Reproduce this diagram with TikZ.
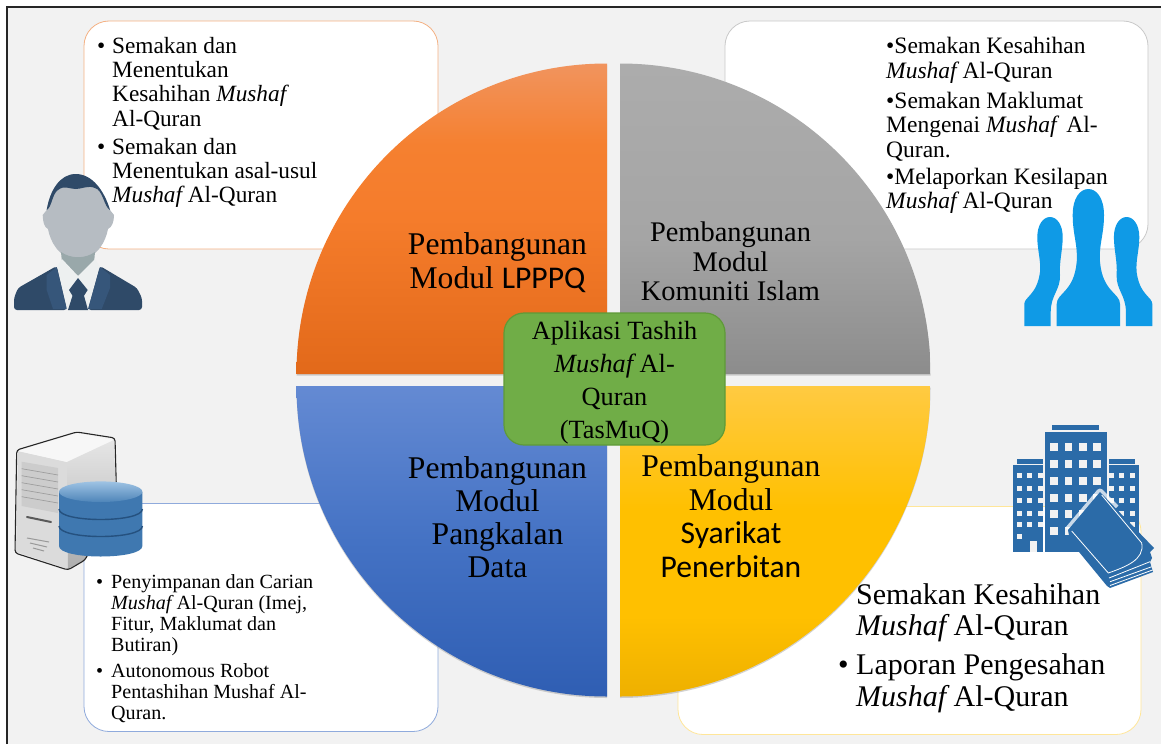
\documentclass[tikz,border=0pt]{standalone}
\usepackage{fontspec}
\setmainfont{Liberation Serif}
\newfontfamily\calfont{Carlito}
\definecolor{PageGray}{HTML}{f2f2f2}
\definecolor{LeafGreen}{HTML}{70ad47}
\definecolor{LeafEdge}{HTML}{5f9a38}
\definecolor{SuitDark}{HTML}{2f4a68}
\definecolor{SuitLight}{HTML}{36567a}
\definecolor{FaceGray}{HTML}{b6bcc2}
\definecolor{NeckGray}{HTML}{99a8aa}
\definecolor{ShirtWhite}{HTML}{edf0f0}
\definecolor{CrowdBlue}{HTML}{0f9ae6}
\definecolor{TowerBlue}{HTML}{2b6ba8}
\definecolor{DiskBlue}{HTML}{3f78b0}
\definecolor{DiskPale}{HTML}{8db8de}
\definecolor{DiskDark}{HTML}{25517f}
\definecolor{EdgeOrange}{HTML}{f4b183}
\definecolor{EdgeGray}{HTML}{c9c9c9}
\definecolor{EdgeBlue}{HTML}{8faadc}
\definecolor{EdgeGold}{HTML}{ffe699}
\usetikzlibrary{shadows}
\pgfdeclareverticalshading{pieorange}{100bp}{
  color(0bp)=(rgb,255:red,226;green,105;blue,26); color(25bp)=(rgb,255:red,226;green,105;blue,26);
  color(50bp)=(rgb,255:red,245;green,124;blue,43); color(62bp)=(rgb,255:red,245;green,128;blue,48);
  color(75bp)=(rgb,255:red,241;green,148;blue,94); color(100bp)=(rgb,255:red,241;green,148;blue,94)}
\pgfdeclareverticalshading{piegray}{100bp}{
  color(0bp)=(rgb,255:red,140;green,140;blue,140); color(25bp)=(rgb,255:red,140;green,140;blue,140);
  color(47bp)=(rgb,255:red,165;green,165;blue,165); color(75bp)=(rgb,255:red,172;green,172;blue,172);
  color(100bp)=(rgb,255:red,172;green,172;blue,172)}
\pgfdeclareverticalshading{pieblue}{100bp}{
  color(0bp)=(rgb,255:red,47;green,94;blue,179); color(25bp)=(rgb,255:red,47;green,94;blue,179);
  color(50bp)=(rgb,255:red,68;green,114;blue,196); color(75bp)=(rgb,255:red,100;green,138;blue,211);
  color(100bp)=(rgb,255:red,100;green,138;blue,211)}
\pgfdeclareverticalshading{piegold}{100bp}{
  color(0bp)=(rgb,255:red,238;green,176;blue,0); color(25bp)=(rgb,255:red,238;green,176;blue,0);
  color(38bp)=(rgb,255:red,255;green,192;blue,0); color(55bp)=(rgb,255:red,255;green,192;blue,0);
  color(75bp)=(rgb,255:red,255;green,202;blue,66); color(100bp)=(rgb,255:red,255;green,202;blue,66)}
\newcommand{\bitem}[1]{\makebox[#1][l]{\textbullet}}
\newcommand{\bcont}[1]{\hspace*{#1}}
\newcommand{\mushaf}{{\itshape Mushaf}}
\tikzset{
  infobox/.style={rounded corners=25pt,fill=white,line width=.8pt,inner sep=0pt},
  listtext/.style={anchor=north west,inner sep=0pt,align=left},
  piefill/.style={drop shadow={shadow xshift=0pt,shadow yshift=-1.5pt,opacity=.35}},
  modultext/.style={anchor=north,inner sep=0pt,align=center,text=black},
  wallwin/.style={fill=PageGray}
}
\begin{document}
\begin{tikzpicture}[x=1pt,y=-1pt]
        \useasboundingbox (0,0) rectangle (1161,744);
        \fill[white] (0,0) rectangle (1161,744);
        \fill[PageGray] (7,7) rectangle (1161,744);
        \draw[black!85,line width=1.2pt] (7,744) -- (7,7) -- (1161,7);

        \node[infobox,draw=EdgeOrange,minimum width=354pt,minimum height=228pt] (lpppqbox) at (261,135) {};
        \node[infobox,draw=EdgeGray,minimum width=423pt,minimum height=228pt] (komunitibox) at (936.5,135) {};
        \node[infobox,draw=EdgeBlue,minimum width=354pt,minimum height=228pt] (databox) at (261,617.5) {};
        \node[infobox,draw=EdgeGold,minimum width=463pt,minimum height=228pt] (syarikatbox) at (909.5,620.5) {};

        \path[piefill,shading=pieorange]
          (607,374) -- (296.5,374) arc[start angle=180,end angle=90,radius=310.5pt] -- cycle;
        \path[piefill,shading=piegray]
          (620,374) -- (620,63.5) arc[start angle=90,end angle=0,radius=310.5pt] -- cycle;
        \path[piefill,shading=pieblue]
          (607,386) -- (296.5,386) arc[start angle=180,end angle=270,radius=310.5pt] -- cycle;
        \path[piefill,shading=piegold]
          (620,386) -- (930.5,386) arc[start angle=0,end angle=-90,radius=310.5pt] -- cycle;

        \node[modultext,font=\fontsize{31.6}{34}\selectfont] (lpppqlabel) at (497.5,232.4) {
          Pembangunan\\
          Modul {\calfont LPPPQ}
        };
        \node[modultext,font=\fontsize{28.4}{29.5}\selectfont] (komunitilabel) at (730.5,221.6) {
          Pembangunan\\
          Modul\\
          Komuniti Islam
        };
        \node[modultext,font=\fontsize{31.6}{33}\selectfont] (datalabel) at (497.5,456.4) {
          Pembangunan\\
          Modul\\
          Pangkalan\\
          Data
        };
        \node[modultext,font=\fontsize{31.6}{33.6}\selectfont] (syarikatlabel) at (731,454.4) {
          Pembangunan\\
          Modul\\
          {\calfont Syarikat}\\
          {\calfont Penerbitan}
        };

        \node[draw=LeafEdge,fill=LeafGreen,line width=1.2pt,rounded corners=20pt,
              minimum width=221pt,minimum height=132pt,inner sep=0pt] (tasmuq) at (614.5,379) {};
        \node[modultext,font=\fontsize{26.3}{32.7}\selectfont] (tasmuqlabel) at (614.5,321.5) {
          Aplikasi Tashih\\
          \mushaf{} Al-\\
          Quran\\
          (TasMuQ)
        };

        \node[listtext,font=\fontsize{23.3}{24.3}\selectfont] (lpppqlist) at (97,37) {
          \bitem{15pt}Semakan dan\\
          \bcont{15pt}Menentukan\\
          \bcont{15pt}Kesahihan \mushaf\\
          \bcont{15pt}Al-Quran\\[3.7pt]
          \bitem{15pt}Semakan dan\\
          \bcont{15pt}Menentukan asal-usul\\
          \bcont{15pt}\mushaf{} Al-Quran
        };
        \node[listtext,font=\fontsize{23.5}{24.6}\selectfont] (komunitilist) at (886,37) {
          \textbullet Semakan Kesahihan\\
          \mushaf{} Al-Quran\\[5.4pt]
          \textbullet Semakan Maklumat\\
          Mengenai \mushaf\, Al-\\
          Quran.\\[2.4pt]
          \textbullet Melaporkan Kesilapan\\
          \mushaf{} Al-Quran
        };
        \node[listtext,font=\fontsize{20.1}{21}\selectfont] (datalist) at (96,574) {
          \bitem{15pt}Penyimpanan dan Carian\\
          \bcont{15pt}\mushaf{} Al-Quran (Imej,\\
          \bcont{15pt}Fitur, Maklumat dan\\
          \bcont{15pt}Butiran)\\[5pt]
          \bitem{15pt}Autonomous Robot\\
          \bcont{15pt}Pentashihan Mushaf Al-\\
          \bcont{15pt}Quran.
        };
        \node[listtext,font=\fontsize{30}{31.5}\selectfont] (syarikatlist) at (838,583) {
          \bcont{18pt}Semakan Kesahihan\\
          \bcont{18pt}\mushaf{} Al-Quran\\[7.5pt]
          \bitem{18pt}Laporan Pengesahan\\
          \bcont{18pt}\mushaf{} Al-Quran
        };

        \fill[FaceGray] (46.7,210) -- (42.7,215) .. controls (43,222) and (44,227) .. (48,229)
          .. controls (50,240) and (58,259) .. (78,259) .. controls (98,259) and (106,240) .. (108,229)
          .. controls (112,227) and (114,222) .. (114,215) -- (110,210)
          .. controls (104,190) and (92,176) .. (76,176) .. controls (60,176) and (50,190) .. (46.7,210) -- cycle;
        \fill[NeckGray] (61,252) -- (62,263) -- (78,276) -- (94,263) -- (95,252)
          .. controls (85,259) and (71,259) .. (61,252) -- cycle;
        \fill[ShirtWhite] (57,267) -- (62,259) -- (78,276) -- (95,259) -- (100,267) -- (89,310) -- (67,310) -- cycle;
        \fill[SuitDark,rounded corners=3pt] (56.7,266) -- (18,288) -- (14,298) -- (14,310) -- (67,310) -- cycle;
        \fill[SuitDark,rounded corners=3pt] (100,266) -- (137,288) -- (142,298) -- (142,310) -- (88,310) -- cycle;
        \fill[SuitLight] (46.7,275) -- (56.7,267) -- (66.7,309) -- (53,309) -- (46.7,290) -- cycle;
        \fill[SuitLight] (100,267) -- (110,275) -- (110,288) -- (101.7,309) -- (88,309) -- cycle;
        \fill[SuitDark] (78,278) -- (87.7,290) -- (84,295.7) -- (88,310) -- (68,310) -- (72.5,295.7) -- (69,290) -- cycle;
        \fill[SuitDark] (46.7,210) .. controls (50,190) and (60,174) .. (75.7,174)
          .. controls (92,174) and (104,190) .. (110,210)
          .. controls (104,207) and (103,190) .. (95,188) .. controls (88,185) and (82,189) .. (75.7,189)
          .. controls (70,189) and (64,185) .. (58,190) .. controls (52,194) and (52,207) .. (46.7,210) -- cycle;

        \fill[CrowdBlue] (1056.7,326) -- (1056.7,304) .. controls (1056.7,293) and (1074,292) .. (1076.7,262)
          .. controls (1078,245) and (1072.7,235) .. (1072.7,215) .. controls (1072.7,198) and (1080,189) .. (1088.3,189)
          .. controls (1096.6,189) and (1104,198) .. (1104,215) .. controls (1104,235) and (1098.6,245) .. (1100,262)
          .. controls (1102.6,292) and (1120,293) .. (1120,304) -- (1120,326) -- cycle;
        \fill[CrowdBlue] (1024.3,326) -- (1024.3,304) .. controls (1024.3,297) and (1037,295) .. (1040,272)
          .. controls (1041,260) and (1037.3,250) .. (1037.3,237) .. controls (1037.3,225) and (1043,217) .. (1050,217)
          .. controls (1057,217) and (1062.7,225) .. (1062.7,237) .. controls (1062.7,250) and (1059,262) .. (1060,275)
          .. controls (1060.5,290) and (1050.7,295) .. (1050.7,312) -- (1050.7,326) -- cycle;
        \fill[CrowdBlue] (1152.3,326) -- (1152.3,304) .. controls (1152.3,297) and (1139.6,295) .. (1136.6,272)
          .. controls (1135.6,260) and (1139.3,250) .. (1139.3,237) .. controls (1139.3,225) and (1133.6,217) .. (1126.6,217)
          .. controls (1119.6,217) and (1113.9,225) .. (1113.9,237) .. controls (1113.9,250) and (1117.6,262) .. (1116.6,275)
          .. controls (1116.1,290) and (1125.9,295) .. (1125.9,312) -- (1125.9,326) -- cycle;

        \fill[black!14] (18,451) -- (67,462) -- (68,569) -- (16,552) -- cycle;
        \fill[black!3] (18,451) -- (76.7,433) -- (114,440) -- (67,462) -- cycle;
        \shade[top color=black!10,bottom color=black!32] (67,462) -- (114,440) -- (116,500) -- (85,560) -- (68,569) -- cycle;
        \draw[black!85,line width=1.1pt,rounded corners=3pt] (16.7,450) -- (76.7,432) -- (115,438) -- (116.7,500)
          -- (85,560) -- (68,570) -- (15,553) -- cycle;
        \fill[black!20] (21.7,461.7) -- (58,468) -- (58,513) -- (21.7,506) -- cycle;
        \foreach \rowy in {7,14,21,28,35}
          \draw[black!38,line width=.7pt] (21.7,461.7+\rowy) -- (58,468+\rowy);
        \draw[black!65,line width=2pt,line cap=round] (27,517) -- (51,522);
        \draw[black!40,line width=1pt] (27,538) -- (49,542) (30,543) -- (47,547) (33,548) -- (44,551);

        \path[left color=DiskBlue,middle color=DiskPale,right color=DiskBlue]
          (59,492) -- (59,546) .. controls (59,560) and (142.4,560) .. (142.4,546) -- (142.4,492) -- cycle;
        \draw[DiskDark,line width=1.4pt] (59,509) .. controls (59,523) and (142.4,523) .. (142.4,509);
        \draw[DiskDark,line width=1.4pt] (59,526) .. controls (59,540) and (142.4,540) .. (142.4,526);
        \shade[top color=DiskPale!85!white,bottom color=DiskBlue!80!DiskPale] (100.7,491.7) ellipse [x radius=41.7pt,y radius=10.3pt];

        \fill[TowerBlue] (1052.3,425) rectangle (1099.3,430);
        \fill[TowerBlue] (1045,432.3) rectangle (1106.7,552);
        \foreach \colx in {1050,1064.5,1079,1093.3}
          \foreach \rowy in {443,460,477,494,510,527}
            \fill[wallwin] (\colx,\rowy) rectangle ++(7.5,7.5);
        \fill[TowerBlue] (1017.3,459.3) rectangle (1042.7,464.3);
        \fill[TowerBlue] (1012.7,465) rectangle (1042.7,552);
        \foreach \colx in {1016.7,1027.3,1038}
          \foreach \rowy in {473,486,498,510.7,522}
            \fill[wallwin] (\colx,\rowy) rectangle ++(4.8,5.4);
        \fill[wallwin] (1016.7,534) rectangle ++(4.8,5.4);
        \fill[wallwin] (1030,541) rectangle (1037.3,552);
        \fill[TowerBlue] (1109.3,459.3) rectangle (1134.5,464.3);
        \fill[TowerBlue] (1109.3,465) rectangle (1139.3,545);
        \foreach \colx in {1109.3,1119.3,1130}
          \foreach \rowy in {473,486,498,510.7,522}
            \fill[wallwin] (\colx,\rowy) rectangle ++(4.8,5.4);

        \draw[white,opacity=.75,line width=7pt,line join=round] (1068,530) -- (1100,492) -- (1116,508);
        \fill[TowerBlue,line join=round] (1068,530) -- (1100,492) -- (1154,548) -- (1150,552) -- (1152,558)
          -- (1150,562) -- (1153,572) -- (1110,588) -- (1107,586) -- (1070,541) -- cycle;
        \draw[white,line width=.8pt] (1071.7,531) -- (1108.3,573) .. controls (1125,567) and (1145,560) .. (1141.7,543) -- (1101.7,495);
        \draw[white,line width=.8pt] (1109,578) -- (1150,561.7);
        \draw[white,line width=.8pt] (1110,581.7) -- (1151.7,566.7);
        \draw[white,line width=.8pt] (1110,585.5) -- (1152.5,570);
      \end{tikzpicture}
\end{document}
